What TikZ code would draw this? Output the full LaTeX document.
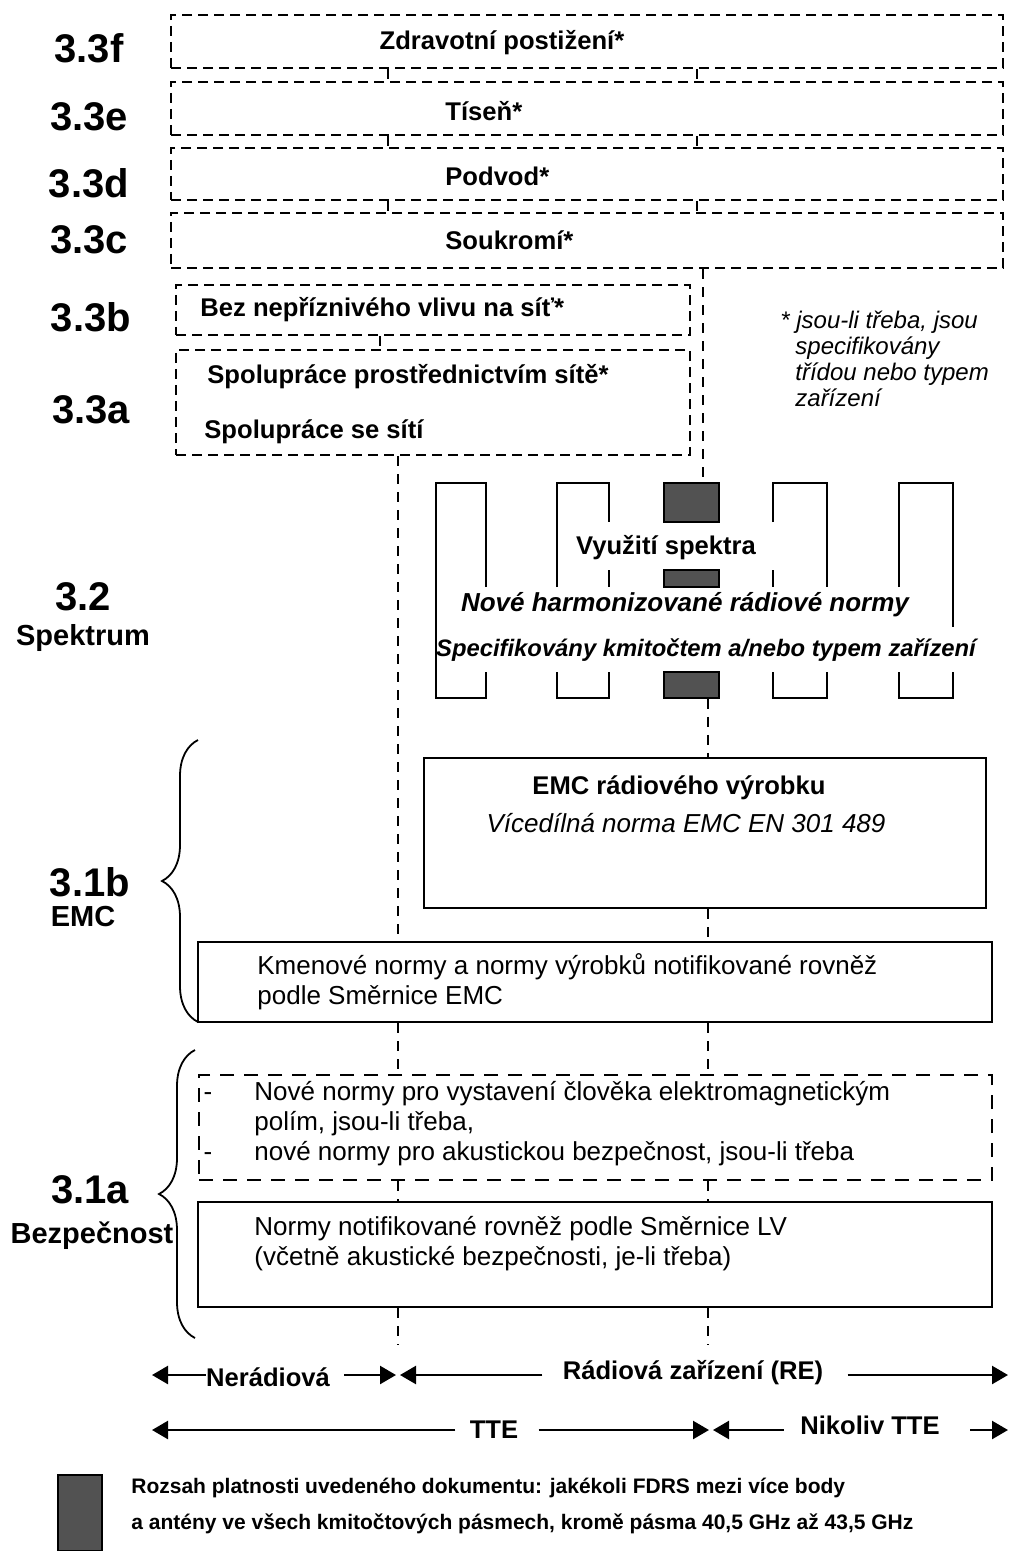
\documentclass[tikz,border=0pt]{standalone}
\usepackage{fontspec}
\setmainfont{Liberation Sans}
\usetikzlibrary{arrows.meta,fit,decorations.pathreplacing}

\begin{document}
\begin{tikzpicture}[x=0.5pt,y=-0.5pt,
        dbox/.style={draw,line width=1.3pt,dash pattern=on 5pt off 3pt,inner sep=0pt},
        ldbox/.style={draw,line width=1.3pt,dash pattern=on 7pt off 5pt,inner sep=0pt},
        sbox/.style={draw,line width=1.2pt,inner sep=0pt},
        conn/.style={line width=1pt,dash pattern=on 5pt off 4pt},
        band/.style={line width=1.2pt},
        hatch/.style={draw,fill=black!68,line width=0.8pt,inner sep=0pt},
        lvl/.style={font=\bfseries\fontsize{20}{22}\selectfont,inner sep=0pt},
        lvlname/.style={font=\bfseries\fontsize{14.5}{16}\selectfont,inner sep=0pt},
        bt/.style={font=\bfseries\fontsize{12.8}{15}\selectfont,inner sep=0pt},
        bit/.style={font=\bfseries\itshape\fontsize{13}{15}\selectfont,inner sep=0pt},
        nt/.style={font=\fontsize{13}{15}\selectfont,inner sep=0pt,align=left},
        note/.style={font=\itshape\fontsize{12}{13}\selectfont,inner sep=0pt,align=left},
        leg/.style={font=\bfseries\fontsize{10.5}{18}\selectfont,inner sep=0pt,align=left},
        arr/.style={line width=1.2pt,-{Triangle[length=8pt,width=9pt]}},
        brc/.style={decorate,decoration={brace,amplitude=18pt},line width=0.9pt}]
    \useasboundingbox (0,0) rectangle (1010,1551);

    \node[dbox,fit={(171,15) (1003,68)}] (f) {};
    \node[dbox,fit={(171,82) (1003,135)}] (e) {};
    \node[dbox,fit={(171,148) (1003,200)}] (d) {};
    \node[dbox,fit={(171,213) (1003,268)}] (c) {};
    \node[dbox,fit={(176,285) (690,335)}] (b) {};
    \node[dbox,fit={(176,350) (690,455)}] (a) {};

    \node[bt] (ft) at (502,43) {Zdravotní postižení*};
    \node[bt,anchor=west] (et) at (445,111) {Tíseň*};
    \node[bt,anchor=west] (dt) at (445,176) {Podvod*};
    \node[bt,anchor=west] (ct) at (445,240) {Soukromí*};
    \node[bt,anchor=west] (bt1) at (200,310) {Bez nepříznivého vlivu na síť*};
    \node[bt,anchor=west] (at1) at (207,377) {Spolupráce prostřednictvím sítě*};
    \node[bt,anchor=west] (at2) at (204,432) {Spolupráce se sítí};

    \node[lvl] (l33f) at (89,48) {3.3f};
    \node[lvl] (l33e) at (89,117) {3.3e};
    \node[lvl] (l33d) at (89,183) {3.3d};
    \node[lvl] (l33c) at (89,240) {3.3c};
    \node[lvl] (l33b) at (91,317) {3.3b};
    \node[lvl] (l33a) at (91,410) {3.3a};
    \node[lvl] (l32) at (83,597) {3.2};
    \node[lvlname] (spek) at (83,638) {Spektrum};
    \node[lvl] (l31b) at (90,882) {3.1b};
    \node[lvlname] (emc) at (83,917) {EMC};
    \node[lvl] (l31a) at (90,1190) {3.1a};
    \node[lvlname] (bezp) at (92,1236) {Bezpečnost};

    \node[note,anchor=north west] (pozn) at (780,311) {* \textit{jsou-li třeba, jsou}\\
        \hspace*{7.5pt}specifikovány\\
        \hspace*{7.5pt}třídou nebo typem\\
        \hspace*{7.5pt}zařízení};

    \draw[band] (486,587) -- (486,483) -- (436,483) -- (436,698) -- (486,698) -- (486,672);
    \draw[band] (557,587) -- (557,483) -- (609,483) -- (609,522);
    \draw[band] (609,570) -- (609,587);
    \draw[band] (557,672) -- (557,698) -- (609,698) -- (609,672);
    \draw[band] (773,522) -- (773,483) -- (827,483) -- (827,587);
    \draw[band] (773,570) -- (773,587);
    \draw[band] (773,672) -- (773,698) -- (827,698) -- (827,672);
    \draw[band] (899,587) -- (899,483) -- (953,483) -- (953,627);
    \draw[band] (899,672) -- (899,698) -- (953,698) -- (953,672);
    \node[hatch,fit={(664,483) (719,522)}] (sh1) {};
    \node[hatch,fit={(664,570) (719,587)}] (sh2) {};
    \node[hatch,fit={(664,672) (719,698)}] (sh3) {};

    \node[bt] (vyuz) at (666,548) {Využití spektra};
    \node[bit] (nove) at (685,605) {Nové harmonizované rádiové normy};
    \node[bit,font=\bfseries\itshape\fontsize{11.9}{14}\selectfont] (spec) at (706,650) {Specifikovány kmitočtem a/nebo typem zařízení};

    \node[sbox,fit={(424,758) (986,908)}] (emcr) {};
    \node[bt] (emcr1) at (679,788) {EMC rádiového výrobku};
    \node[nt,font=\itshape\fontsize{13}{15}\selectfont] (emcr2) at (686,823) {Vícedílná norma EMC EN 301 489};

    \node[sbox,fit={(198,942) (992,1022)}] (kmen) {};
    \node[nt,anchor=west] (kment) at (257,982) {Kmenové normy a normy výrobků notifikované rovněž\\podle Směrnice EMC};

    \node[ldbox,fit={(199,1075) (992,1180)}] (lvd) {};
    \node[nt,anchor=north west] (lvdt) at (254,1081) {\llap{-\hspace*{21pt}}Nové normy pro vystavení člověka elektromagnetickým\\polím, jsou-li třeba,\\\llap{-\hspace*{21pt}}nové normy pro akustickou bezpečnost, jsou-li třeba};

    \node[sbox,fit={(198,1202) (992,1307)}] (lv) {};
    \node[nt,anchor=west] (lvt) at (254,1244) {Normy notifikované rovněž podle Směrnice LV\\(včetně akustické bezpečnosti, je-li třeba)};

    \coordinate (lx) at (388,0);
    \coordinate (rx) at (697,0);
    \coordinate (ax) at (380,0);
    \coordinate (sx) at (703,0);
    \coordinate (nx) at (398,0);
    \coordinate (tx) at (708,0);
    \coordinate (konec) at (0,1345);
    \foreach \u/\v in {f/e,e/d,d/c} {
        \draw[conn] (\u.south -| lx) -- (\v.north -| lx);
        \draw[conn] (\u.south -| rx) -- (\v.north -| rx);
    }
    \draw[conn] (b.south -| ax) -- (a.north -| ax);
    \draw[conn] (c.south -| sx) -- (sh1.north -| sx);
    \draw[conn] (a.south -| nx) -- (kmen.north -| nx);
    \draw[conn] (sh3.south -| tx) -- (emcr.north -| tx);
    \draw[conn] (emcr.south -| tx) -- (kmen.north -| tx);
    \foreach \x in {nx,tx} {
        \draw[conn] (kmen.south -| \x) -- (lvd.north -| \x);
        \draw[conn] (lvd.south -| \x) -- (lv.north -| \x);
        \draw[conn] (lv.south -| \x) -- (\x |- konec);
    }

    \draw[brc] (198,1022) -- (198,740);
    \draw[brc] (195,1338) -- (195,1050);

    \node[bt] (nerad) at (268,1377) {Nerádiová};
    \node[bt] (rad) at (693,1373) {Rádiová zařízení (RE)};
    \node[bt] (tte) at (494,1430) {TTE};
    \node[bt] (ntte) at (870,1425) {Nikoliv TTE};
    \coordinate (r1a) at (152,1375);
    \coordinate (r1b) at (398,1375);
    \coordinate (r1c) at (1008,1375);
    \coordinate (r2a) at (152,1430);
    \coordinate (r2b) at (711,1430);
    \coordinate (r2c) at (1008,1430);
    \draw[arr] (nerad.west |- r1a) -- (r1a);
    \draw[arr] ([xshift=7pt]nerad.east |- r1b) -- ([xshift=-1pt]r1b);
    \draw[arr] ([xshift=-10pt]rad.west |- r1b) -- ([xshift=1pt]r1b);
    \draw[arr] ([xshift=12pt]rad.east |- r1c) -- (r1c);
    \draw[arr] ([xshift=-7pt]tte.west |- r2a) -- (r2a);
    \draw[arr] ([xshift=10pt]tte.east |- r2b) -- ([xshift=-1pt]r2b);
    \draw[arr] ([xshift=-8pt]ntte.west |- r2b) -- ([xshift=1pt]r2b);
    \draw[arr] ([xshift=15pt]ntte.east |- r2c) -- (r2c);

    \node[hatch,fit={(58,1475) (102,1551)}] (legbox) {};
    \node[leg,anchor=west] (legt) at (131,1506) {Rozsah platnosti uvedeného dokumentu: jakékoli FDRS mezi více body\\a antény ve všech kmitočtových pásmech, kromě pásma 40,5 GHz až 43,5 GHz};
\end{tikzpicture}
\end{document}
